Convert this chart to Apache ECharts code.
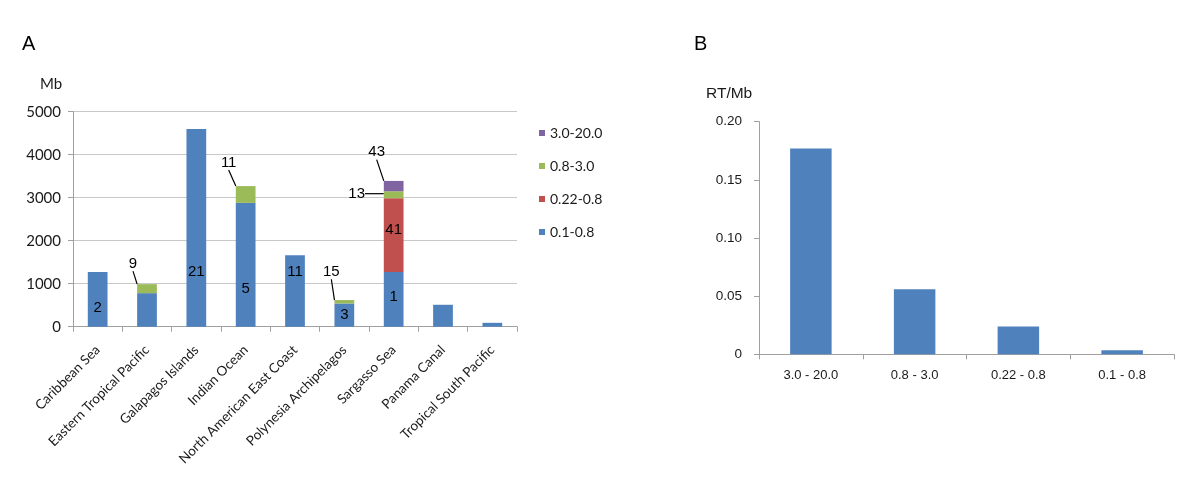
<!DOCTYPE html>
<html>
<head>
<meta charset="utf-8">
<script src="https://cdn.jsdelivr.net/npm/echarts@6/dist/echarts.min.js"></script>
<style>
html,body{margin:0;padding:0;background:#fff;}
#c{width:1200px;height:488px;}
</style>
</head>
<body>
<div id="c"></div>
<script>
// ---- Data: panel A ----
const regions = ['Caribbean Sea','Eastern Tropical Pacific','Galapagos Islands','Indian Ocean','North American East Coast','Polynesia Archipelagos','Sargasso Sea','Panama Canal','Tropical South Pacific'];
const mb_01_08   = [1270, 780, 4600, 2880, 1660, 540, 1270, 510, 90];
const mb_022_08  = [null, null, null, null, null, null, 1720, null, null];
const mb_08_30   = [null, 210, null, 390, null, 80, 160, null, null];
const mb_30_200  = [null, null, null, null, null, null, 240, null, null];
const n_01_08    = ['2', '', '21', '5', '11', '3', '1', '', ''];
const n_022_08   = ['', '', '', '', '', '', '41', '', ''];
const n_08_30    = ['', '9', '', '11', '', '15', '13', '', ''];
const n_30_200   = ['', '', '', '', '', '', '43', '', ''];
const legendNames = ['3.0-20.0', '0.8-3.0', '0.22-0.8', '0.1-0.8'];
const yTicksA = {min: 0, max: 5000, interval: 1000};

// ---- Data: panel B ----
const sizeClasses = ['3.0 - 20.0', '0.8 - 3.0', '0.22 - 0.8', '0.1 - 0.8'];
const rtPerMb = [0.177, 0.056, 0.024, 0.0035];
const yTicksB = {min: 0, max: 0.20, interval: 0.05};

// ---- Styles ----
const C = {blue:'#4F81BD', red:'#C0504D', green:'#9BBB59', purple:'#8064A2'};
const axisCol = '#a0a0a0', gridCol = '#c8c8c8', txt = '#1a1a1a';
const labelFont = 'Liberation Sans, Arial, sans-serif';
const tickFont = 'Lato, Carlito, Calibri, sans-serif';

// in-bar label lift (px above baseline) for blue segments
const blueLift = {0: 11.7, 2: 47.4, 3: 30.7, 4: 47.4, 5: 4.7, 6: 22.4};
// callout displacements (px)
const greenCallout = {1: [-14, -25], 3: [-17, -32], 5: [-13, -30], 6: [-37, -1]};
const purpleCallout = {6: [-17, -34]};

function fmt(arr){ return p => arr[p.dataIndex] || ''; }

const blueData = mb_01_08.map((v, i) => {
  const d = {value: v};
  if (blueLift[i] !== undefined) d.label = {position: 'insideBottom', distance: blueLift[i]};
  return d;
});

const chart = echarts.init(document.getElementById('c'), null, {renderer: 'canvas'});
chart.setOption({
  animation: false,
  backgroundColor: '#fff',
  textStyle: {fontFamily: labelFont},
  grid: [
    {left: 73, right: 683, top: 111.7, bottom: 161.3},
    {left: 759, right: 26, top: 121.7, bottom: 133.7}
  ],
  legend: {
    data: legendNames,
    orient: 'vertical',
    left: 534, top: 121,
    icon: 'rect', itemWidth: 6, itemHeight: 6, itemGap: 19,
    textStyle: {fontFamily: tickFont, fontSize: 14, color: txt, lineHeight: 14},
    selectedMode: false
  },
  xAxis: [
    {type: 'category', gridIndex: 0, data: regions,
     axisLine: {lineStyle: {color: axisCol}},
     axisTick: {show: true, length: 5, lineStyle: {color: axisCol}},
     axisLabel: {rotate: 45, interval: 0, margin: 21, fontFamily: tickFont, fontSize: 13.5, color: txt}},
    {type: 'category', gridIndex: 1, data: sizeClasses,
     axisLine: {lineStyle: {color: axisCol}},
     axisTick: {show: true, length: 5, lineStyle: {color: axisCol}},
     axisLabel: {interval: 0, margin: 15, fontFamily: labelFont, fontSize: 13, color: txt}}
  ],
  yAxis: [
    {type: 'value', gridIndex: 0, min: yTicksA.min, max: yTicksA.max, interval: yTicksA.interval,
     axisLine: {show: true, lineStyle: {color: axisCol}},
     axisTick: {show: true, length: 5, lineStyle: {color: axisCol}},
     splitLine: {show: true, lineStyle: {color: gridCol}},
     axisLabel: {margin: 12, fontFamily: tickFont, fontSize: 15, color: txt, formatter: v => String(v)}},
    {type: 'value', gridIndex: 1, min: yTicksB.min, max: yTicksB.max, interval: yTicksB.interval,
     axisLine: {show: true, lineStyle: {color: axisCol}},
     axisTick: {show: true, length: 5, lineStyle: {color: axisCol}},
     splitLine: {show: false},
     axisLabel: {margin: 17, fontFamily: labelFont, fontSize: 13.5, color: txt,
       formatter: v => v === 0 ? '0' : v.toFixed(2)}}
  ],
  series: [
    {name: '0.1-0.8', type: 'bar', stack: 'A', xAxisIndex: 0, yAxisIndex: 0, barWidth: '40%',
     itemStyle: {color: C.blue}, data: blueData,
     label: {show: true, formatter: fmt(n_01_08), color: '#000', fontSize: 15, fontFamily: labelFont}},
    {name: '0.22-0.8', type: 'bar', stack: 'A', xAxisIndex: 0, yAxisIndex: 0, barWidth: '40%',
     itemStyle: {color: C.red}, data: mb_022_08,
     label: {show: true, position: 'inside', offset: [0, -5], formatter: fmt(n_022_08), color: '#000', fontSize: 15, fontFamily: labelFont}},
    {name: '0.8-3.0', type: 'bar', stack: 'A', xAxisIndex: 0, yAxisIndex: 0, barWidth: '40%',
     itemStyle: {color: C.green}, data: mb_08_30,
     label: {show: true, position: 'inside', formatter: fmt(n_08_30), color: '#000', fontSize: 15, fontFamily: labelFont},
     labelLine: {show: true, lineStyle: {color: '#000', width: 1.2}},
     labelLayout: p => { const o = greenCallout[p.dataIndex]; return o ? {dx: o[0], dy: o[1]} : {}; }},
    {name: '3.0-20.0', type: 'bar', stack: 'A', xAxisIndex: 0, yAxisIndex: 0, barWidth: '40%',
     itemStyle: {color: C.purple}, data: mb_30_200,
     label: {show: true, position: 'inside', formatter: fmt(n_30_200), color: '#000', fontSize: 15, fontFamily: labelFont},
     labelLine: {show: true, lineStyle: {color: '#000', width: 1.2}},
     labelLayout: p => { const o = purpleCallout[p.dataIndex]; return o ? {dx: o[0], dy: o[1]} : {}; }},
    {name: 'RT/Mb', type: 'bar', xAxisIndex: 1, yAxisIndex: 1, barWidth: '40%',
     itemStyle: {color: C.blue}, data: rtPerMb}
  ],
  graphic: [
    {type: 'text', left: 22, top: 34, style: {text: 'A', fontSize: 20, fontFamily: labelFont, fill: '#000'}},
    {type: 'text', left: 694, top: 34, style: {text: 'B', fontSize: 20, fontFamily: labelFont, fill: '#000'}},
    {type: 'text', left: 40, top: 77, style: {text: 'Mb', fontSize: 15, fontFamily: tickFont, fill: txt}},
    {type: 'text', left: 706, top: 86, style: {text: 'RT/Mb', fontSize: 15.5, fontFamily: labelFont, fill: txt}}
  ]
});
</script>
</body>
</html>
